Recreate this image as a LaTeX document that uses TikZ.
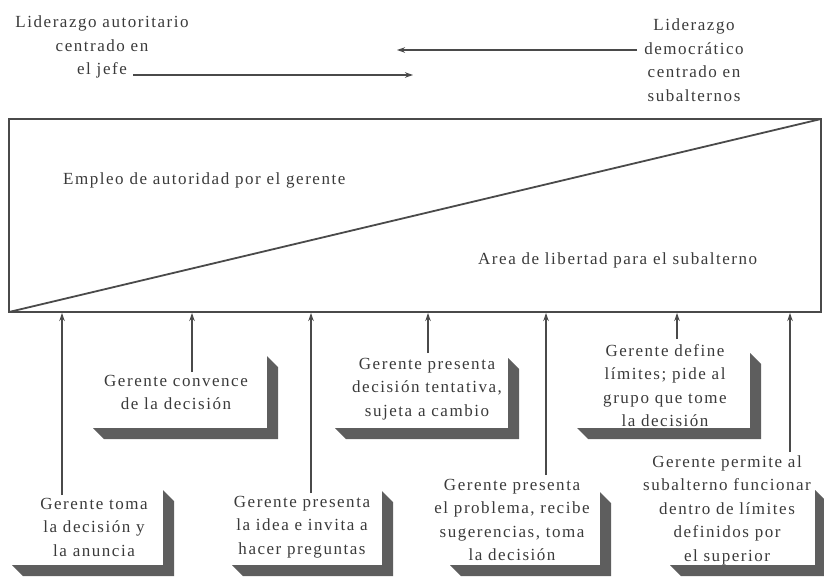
\documentclass[tikz,border=0pt]{standalone}
\usepackage{fontspec}
\setmainfont{Liberation Serif}[LetterSpace=9]
\usetikzlibrary{arrows.meta}
\definecolor{ink}{HTML}{3A3A3A}
\definecolor{rulegray}{HTML}{4A4A4A}
\definecolor{shadowgray}{HTML}{5E5E5E}
% raised card: shadow strips on the right and bottom of the area L,T,R,B
\newcommand{\cardshadow}[4]{%
  \fill[shadowgray] (#3,#2) -- (#3+11,#2+11) -- (#3+11,#4+11) -- (#1+11,#4+11)
    -- (#1,#4) -- (#3,#4) -- cycle;}
\begin{document}
\begin{tikzpicture}[x=1pt,y=-1pt,
  lbl/.style={font=\fontsize{17}{23.5}\selectfont, text=ink, align=center, inner sep=0pt},
  uparrow/.style={draw=rulegray, line width=1.1pt, -{Stealth[length=8pt,width=5.5pt]}},
  flowarrow/.style={draw=rulegray, line width=1.1pt, -{Stealth[length=8pt,width=5.5pt]}},
  frame/.style={draw=rulegray, line width=1.8pt}]
\useasboundingbox (0,0) rectangle (824,576);

% heading labels and the two opposing arrows
\node[lbl, anchor=north] (autor) at (102,16) {Liderazgo autoritario\\centrado en\\el jefe};
\node[lbl, anchor=north] (demo) at (694,19) {Liderazgo\\democrático\\centrado en\\subalternos};
\coordinate (ja) at (133,75);
\coordinate (jb) at (413,75);
\coordinate (da) at (637,50);
\coordinate (db) at (397,50);
\draw[flowarrow] (ja) -- (jb);
\draw[flowarrow] (da) -- (db);

% the continuum rectangle split by its diagonal
\coordinate (tl) at (9,119);
\coordinate (br) at (821,312);
\coordinate (bl) at (9,312);
\coordinate (tr) at (821,119);
\draw[frame] (tl) rectangle (br);
\draw[frame] (bl) -- (tr);
\node[lbl, anchor=west] (empleo) at (63,180) {Empleo de autoridad por el gerente};
\node[lbl, anchor=west] (area) at (478,260) {Area de libertad para el subalterno};

% cards with their shadows
\cardshadow{12}{490}{163}{565}
\cardshadow{93}{356}{267}{428}
\cardshadow{232}{491}{382}{565}
\cardshadow{335}{358}{508}{428}
\cardshadow{450}{492}{600}{565}
\cardshadow{577}{353}{750}{428}
\cardshadow{670}{490}{815}{565}

\node[lbl, anchor=north] (b1) at (94,498) {Gerente toma\\la decisión y\\la anuncia};
\node[lbl, anchor=north] (b2) at (176,375) {Gerente convence\\de la decisión};
\node[lbl, anchor=north] (b3) at (302,496) {Gerente presenta\\la idea e invita a\\hacer preguntas};
\node[lbl, anchor=north] (b4) at (427,358) {Gerente presenta\\decisión tentativa,\\sujeta a cambio};
\node[lbl, anchor=north] (b5) at (512,479) {Gerente presenta\\el problema, recibe\\sugerencias, toma\\la decisión};
\node[lbl, anchor=north] (b6) at (665,344) {Gerente define\\límites; pide al\\grupo que tome\\la decisión};
\node[lbl, anchor=north] (b7) at (727,455) {Gerente permite al\\subalterno funcionar\\dentro de límites\\definidos por\\el superior};

% pointers from each card up to the continuum
\coordinate (s1) at (62,495);
\coordinate (s2) at (192,372);
\coordinate (s3) at (311,493);
\coordinate (s4) at (428,353);
\coordinate (s5) at (546,475);
\coordinate (s6) at (677,339);
\coordinate (s7) at (790,452);
\foreach \s in {s1,s2,s3,s4,s5,s6,s7}
  \draw[uparrow, shorten >=1pt] (\s) -- (\s |- br);
\end{tikzpicture}
\end{document}
